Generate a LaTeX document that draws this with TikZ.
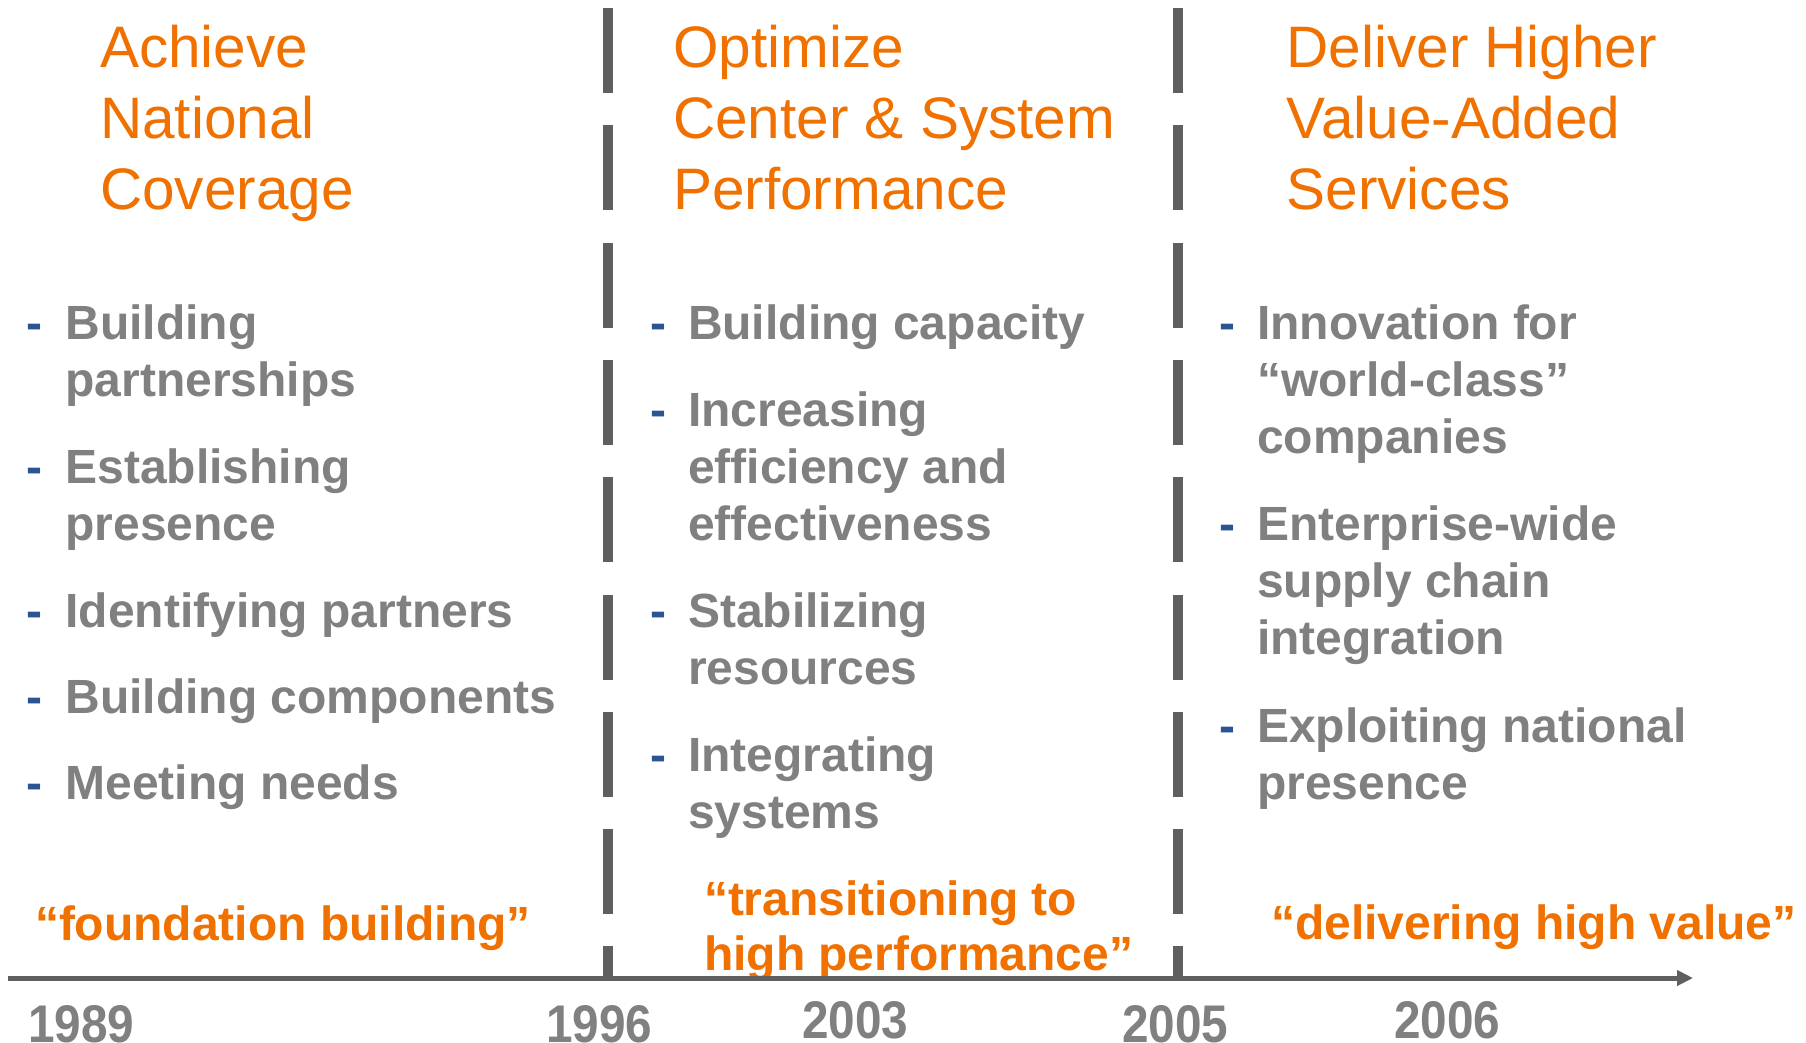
\documentclass[tikz,border=0pt]{standalone}
\usepackage{fontspec}
\setmainfont{Liberation Sans}
\usepackage{graphicx}
\usetikzlibrary{arrows.meta}

\definecolor{accent}{RGB}{240,112,0}
\definecolor{bodygray}{RGB}{128,128,128}
\definecolor{rulegray}{RGB}{95,95,95}
\definecolor{dashblue}{RGB}{43,85,146}

% left-aligned block whose baseline is that of its first line
\newcommand\stackedlines[1]{\begin{tabular}[t]{@{}l@{}}#1\end{tabular}}
\newcommand\yeartext[1]{\scalebox{0.9}[1]{#1}}

\begin{document}
\begin{tikzpicture}[x=1pt,y=-1pt,
  txt/.style={anchor=base west,inner sep=0pt,outer sep=0pt},
  phase/.style={txt,text=accent,font=\fontsize{58.5}{71}\selectfont},
  item/.style={txt,text=bodygray,font=\fontsize{48}{57}\selectfont\bfseries},
  bullet/.style={txt,text=dashblue,font=\fontsize{48}{57}\selectfont\bfseries},
  motto/.style={txt,text=accent,font=\fontsize{48}{55}\selectfont\bfseries},
  yearlbl/.style={txt,text=bodygray,font=\fontsize{53}{60}\selectfont\bfseries},
  divider/.style={draw=rulegray,line width=10pt,dash pattern=on 85pt off 32.3pt},
  timeline/.style={draw=rulegray,line width=5pt,-{Triangle[length=16pt,width=15pt]}}]

\useasboundingbox[fill=white] (0,0) rectangle (1806,1042);

% phase dividers
\coordinate (d1top) at (608,8);
\coordinate (d1bot) at (608,978);
\coordinate (d2top) at (1178,8);
\coordinate (d2bot) at (1178,978);
\draw[divider] (d1top) -- (d1bot);
\draw[divider] (d2top) -- (d2bot);

% phase headings
\node[phase] (h1) at (100,67)    {\stackedlines{Achieve\\National\\Coverage}};
\node[phase] (h2) at (673,67)    {\stackedlines{Optimize\\Center \& System\\Performance}};
\node[phase] (h3) at (1286.5,67) {\stackedlines{Deliver Higher\\Value-Added\\Services}};

% first phase activities
\node[bullet] (b11) at (26,339.5) {-};
\node[item]   (a11) at (65.5,339.5) {\stackedlines{Building\\partnerships}};
\node[bullet] (b12) at (26,483.5) {-};
\node[item]   (a12) at (65.5,483.5) {\stackedlines{Establishing\\presence}};
\node[bullet] (b13) at (26,627.5) {-};
\node[item]   (a13) at (65.5,627.5) {Identifying partners};
\node[bullet] (b14) at (26,713.5) {-};
\node[item]   (a14) at (65.5,713.5) {Building components};
\node[bullet] (b15) at (26,799.5) {-};
\node[item]   (a15) at (65.5,799.5) {Meeting needs};

% second phase activities
\node[bullet] (b21) at (650,339.5) {-};
\node[item]   (a21) at (688,339.5) {Building capacity};
\node[bullet] (b22) at (650,426.5) {-};
\node[item]   (a22) at (688,426.5) {\stackedlines{Increasing\\efficiency and\\effectiveness}};
\node[bullet] (b23) at (650,627.5) {-};
\node[item]   (a23) at (688,627.5) {\stackedlines{Stabilizing\\resources}};
\node[bullet] (b24) at (650,771.5) {-};
\node[item]   (a24) at (688,771.5) {\stackedlines{Integrating\\systems}};

% third phase activities
\node[bullet] (b31) at (1219,339.5) {-};
\node[item]   (a31) at (1257,339.5) {\stackedlines{Innovation for\\“world-class”\\companies}};
\node[bullet] (b32) at (1219,540.5) {-};
\node[item]   (a32) at (1257,540.5) {\stackedlines{Enterprise-wide\\supply chain\\integration}};
\node[bullet] (b33) at (1219,742.5) {-};
\node[item]   (a33) at (1257,742.5) {\stackedlines{Exploiting national\\presence}};

% phase mottos
\node[motto] (m1) at (35,940) {“foundation building”};
\begin{scope}
  \clip (690,850) rectangle (1160,976);
  \node[motto] (m2) at (704,915) {\stackedlines{“transitioning to\\high performance”}};
\end{scope}
\node[motto] (m3) at (1271,939) {“delivering high value”};

% time axis
\coordinate (t0) at (8,978);
\coordinate (t1) at (1693,978);
\draw[timeline] (t0) -- (t1);

% years
\node[yearlbl] (y1) at (28,1042)   {\yeartext{1989}};
\node[yearlbl] (y2) at (546,1042)  {\yeartext{1996}};
\node[yearlbl] (y3) at (802,1038)  {\yeartext{2003}};
\node[yearlbl] (y4) at (1122,1042) {\yeartext{2005}};
\node[yearlbl] (y5) at (1394,1038) {\yeartext{2006}};
\end{tikzpicture}
\end{document}
